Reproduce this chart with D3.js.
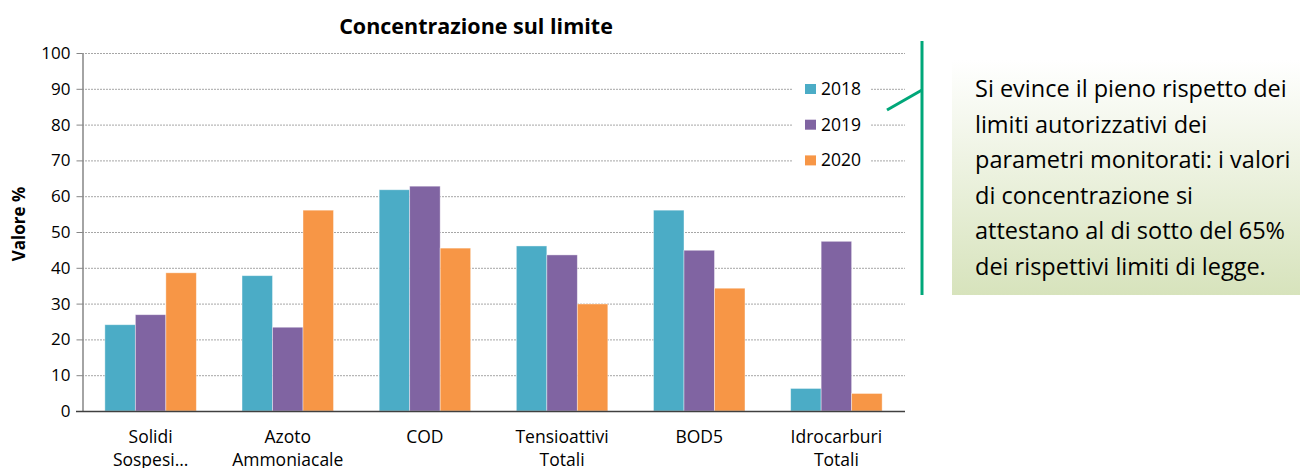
<!DOCTYPE html>
<html>
<head>
<meta charset="utf-8">
<script src="https://cdn.jsdelivr.net/npm/d3@7"></script>
<style>
  body { margin: 0; background: #fff; }
  svg { display: block; font-family: "Open Sans", sans-serif; }
</style>
</head>
<body>
<script>
// data
var categories = ["Solidi Sospesi…", "Azoto Ammoniacale", "COD", "Tensioattivi Totali", "BOD5", "Idrocarburi Totali"];
var categoryLines = [["Solidi", "Sospesi…"], ["Azoto", "Ammoniacale"], ["COD"], ["Tensioattivi", "Totali"], ["BOD5"], ["Idrocarburi", "Totali"]];
var years = ["2018", "2019", "2020"];
var values2018 = [24.1, 37.8, 61.8, 46.1, 56.1, 6.3];
var values2019 = [26.9, 23.4, 62.8, 43.6, 44.9, 47.4];
var values2020 = [38.6, 56.1, 45.5, 29.9, 34.3, 4.9];
var yTicks = [0, 10, 20, 30, 40, 50, 60, 70, 80, 90, 100];
var noteLines = [
  "Si evince il pieno rispetto dei",
  "limiti autorizzativi dei",
  "parametri monitorati: i valori",
  "di concentrazione si",
  "attestano al di sotto del 65%",
  "dei rispettivi limiti di legge."
];

var colors = { "2018": "#4bacc6", "2019": "#8064a2", "2020": "#f79646" };
var series = { "2018": values2018, "2019": values2019, "2020": values2020 };

var w = 1300, h = 468;
var svg = d3.select("body").append("svg").attr("width", w).attr("height", h);

// scales
var x = d3.scaleBand().domain(categories).range([82, 905]).paddingInner(0.333).paddingOuter(0.1667);
var xYear = d3.scaleBand().domain(years).range([0, x.bandwidth()]);
var y = d3.scaleLinear().domain([0, 100]).range([411, 53]);

// gridlines
svg.append("g").selectAll("line")
  .data(yTicks.filter(d => d > 0))
  .enter().append("line")
    .attr("x1", 82).attr("x2", 905)
    .attr("y1", d => y(d) + 0.5).attr("y2", d => y(d) + 0.5)
    .attr("stroke", "#a6a6a6")
    .attr("stroke-dasharray", "2,1");

// legend background (covers gridlines)
svg.append("rect").attr("x", 793).attr("y", 72).attr("width", 77).attr("height", 104).attr("fill", "#fff");

// bars
var groups = svg.append("g").selectAll("g")
  .data(years)
  .enter().append("g")
    .attr("fill", d => colors[d]);

groups.selectAll("rect")
  .data(yr => series[yr].map((v, i) => ({ yr: yr, cat: categories[i], v: v })))
  .enter().append("rect")
    .attr("x", d => x(d.cat) + xYear(d.yr))
    .attr("y", d => y(d.v))
    .attr("width", xYear.bandwidth())
    .attr("height", d => y(0) - y(d.v))
    .attr("stroke", "rgba(255,255,255,0.5)")
    .attr("stroke-width", 0.8);

// y axis
var yAxis = svg.append("g")
  .attr("transform", "translate(82.5,0)")
  .call(d3.axisLeft(y).tickValues(yTicks).tickSize(6).tickPadding(6).tickSizeOuter(0));
yAxis.select(".domain").attr("stroke", "#868686").attr("stroke-width", 1.5);
yAxis.selectAll(".tick line").attr("stroke", "#868686");
yAxis.selectAll(".tick text").attr("font-size", 17).attr("fill", "#000").style("font-family", "'Open Sans', sans-serif");

// x axis baseline
svg.append("line")
  .attr("x1", 76).attr("x2", 905)
  .attr("y1", y(0) + 0.5).attr("y2", y(0) + 0.5)
  .attr("stroke", "#404040").attr("stroke-width", 1.5);

// x labels
var xl = svg.append("g").selectAll("text")
  .data(categories)
  .enter().append("text")
    .attr("x", d => x(d) + x.bandwidth() / 2)
    .attr("y", 443)
    .attr("text-anchor", "middle")
    .attr("font-size", 17.5)
    .attr("fill", "#000");
xl.selectAll("tspan")
  .data((d, i) => categoryLines[i])
  .enter().append("tspan")
    .attr("x", function() { return d3.select(this.parentNode).attr("x"); })
    .attr("dy", (d, i) => i == 0 ? 0 : 23)
    .text(d => d);

// title
svg.append("text")
  .attr("x", 476).attr("y", 34)
  .attr("text-anchor", "middle")
  .attr("font-size", 21.5).attr("font-weight", "bold")
  .text("Concentrazione sul limite");

// y title
svg.append("text")
  .attr("transform", "translate(25,224) rotate(-90)")
  .attr("text-anchor", "middle")
  .attr("font-size", 17).attr("font-weight", "bold")
  .text("Valore %");

// legend
var leg = svg.append("g").selectAll("g")
  .data(years)
  .enter().append("g")
    .attr("transform", (d, i) => "translate(805," + (84 + i * 35.7) + ")");
leg.append("rect").attr("width", 11).attr("height", 10).attr("fill", d => colors[d]);
leg.append("text").attr("x", 16).attr("y", 11).attr("font-size", 17.5).text(d => d);

// note callout
var defs = svg.append("defs");
var grad = defs.append("linearGradient").attr("id", "noteGrad").attr("x1", 0).attr("x2", 0).attr("y1", 0).attr("y2", 1);
grad.append("stop").attr("offset", "0%").attr("stop-color", "#ffffff");
grad.append("stop").attr("offset", "100%").attr("stop-color", "#d7e3bc");

svg.append("rect")
  .attr("x", 952).attr("y", 60).attr("width", 348).attr("height", 235)
  .attr("fill", "url(#noteGrad)");

svg.append("line")
  .attr("x1", 922).attr("x2", 922).attr("y1", 41).attr("y2", 295)
  .attr("stroke", "#00a779").attr("stroke-width", 3);
svg.append("line")
  .attr("x1", 887).attr("y1", 110).attr("x2", 922).attr("y2", 90)
  .attr("stroke", "#00a779").attr("stroke-width", 3);

svg.append("g").selectAll("text")
  .data(noteLines)
  .enter().append("text")
    .attr("x", 975)
    .attr("y", (d, i) => 97 + i * 35.5)
    .attr("font-size", 23.5)
    .attr("fill", "#000")
    .text(d => d);
</script>
</body>
</html>
